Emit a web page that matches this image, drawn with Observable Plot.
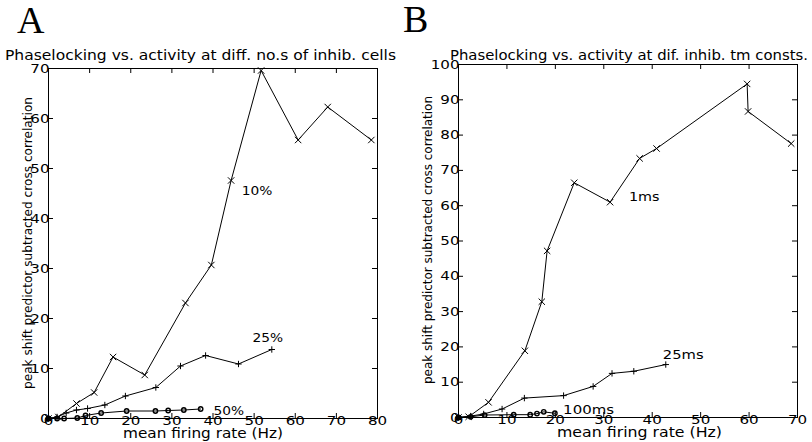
<!DOCTYPE html>
<html>
<head>
<meta charset="utf-8">
<script src="https://cdn.jsdelivr.net/npm/d3@7"></script>
<script src="https://cdn.jsdelivr.net/npm/@observablehq/plot@0.6"></script>
<style>
  body { margin: 0; background: #fff; }
  #wrap { position: relative; width: 812px; height: 442px; overflow: hidden; background: #fff; }
  #wrap > .panel { position: absolute; top: 0; }
  #wrap svg { overflow: visible; }
  #notes { position: absolute; left: 0; top: 0; pointer-events: none; }
</style>
</head>
<body>
<div id="wrap">
  <div class="panel" id="panelA" style="left:0px"></div>
  <div class="panel" id="panelB" style="left:405px"></div>
  <svg id="notes" width="812" height="442" font-family="DejaVu Sans, sans-serif" fill="#000">
    <text x="17" y="33" font-family="Liberation Serif, serif" font-size="38">A</text>
    <text x="403" y="32" font-family="Liberation Serif, serif" font-size="38">B</text>
    <text x="5" y="60" font-size="13.5" textLength="391" lengthAdjust="spacingAndGlyphs">Phaselocking vs. activity at diff. no.s of inhib. cells</text>
    <text x="450" y="60" font-size="13.5" textLength="358" lengthAdjust="spacingAndGlyphs">Phaselocking vs. activity at dif. inhib. tm consts.</text>
    <text x="123" y="438" font-size="14" textLength="160" lengthAdjust="spacingAndGlyphs">mean firing rate (Hz)</text>
    <text x="557" y="437" font-size="14" textLength="165" lengthAdjust="spacingAndGlyphs">mean firing rate (Hz)</text>
    <text transform="translate(32,243) rotate(-90)" font-size="12.5" text-anchor="middle" textLength="292" lengthAdjust="spacingAndGlyphs">peak shift predictor subtracted cross correlation</text>
    <text transform="translate(432,240) rotate(-90)" font-size="12.5" text-anchor="middle" textLength="288" lengthAdjust="spacingAndGlyphs">peak shift predictor subtracted cross correlation</text>
  </svg>
</div>
<script>
// Panel A: phase locking vs. mean firing rate for different fractions of inhibitory cells
const a10x = [0, 2.4, 6.8, 11.1, 15.7, 23.4, 33.3, 39.6, 44.4, 51.7, 60.7, 67.9, 78.5];
const a10y = [0, 0.3, 3.0, 5.2, 12.3, 8.7, 23.1, 30.7, 47.6, 69.6, 55.7, 62.3, 55.7];
const a25x = [0, 2.1, 4.3, 6.8, 9.5, 13.7, 18.7, 26.1, 32.1, 38.2, 46.2, 54.3];
const a25y = [0, 0.3, 1.1, 1.7, 2.0, 2.7, 4.5, 6.2, 10.5, 12.6, 10.9, 13.8];
const a50x = [0, 2.1, 3.8, 7.0, 9.0, 12.8, 19.0, 26.0, 29.1, 32.9, 37.0];
const a50y = [0, 0, 0, 0.1, 0.6, 1.1, 1.5, 1.5, 1.6, 1.7, 1.9];
const aLabels = ["10%", "25%", "50%"];
const aLabelX = [47, 49.6, 40.1];
const aLabelY = [45.6, 16.1, 1.6];
const aXTicks = [0, 10, 20, 30, 40, 50, 60, 70, 80];
const aYTicks = [0, 10, 20, 30, 40, 50, 60, 70];

// Panel B: phase locking vs. mean firing rate for different inhibitory time constants
const b1x = [0, 2.1, 6.2, 13.7, 17.2, 18.3, 23.9, 31.3, 37.4, 40.9, 59.6, 59.8, 68.7];
const b1y = [0, 0.2, 4.3, 18.9, 32.8, 47.2, 66.5, 61.0, 73.4, 76.2, 94.5, 86.7, 77.6];
const b25x = [0, 2.5, 5.2, 9.0, 13.6, 21.7, 27.8, 31.7, 36.2, 42.8];
const b25y = [0, 0.4, 1.0, 2.4, 5.5, 6.2, 8.8, 12.5, 13.1, 15.0];
const b100x = [0, 2.5, 5.4, 11.4, 14.8, 16.2, 17.6, 19.9];
const b100y = [0, 0.2, 0.7, 0.8, 0.8, 1.1, 1.6, 1.2];
const bLabels = ["1ms", "25ms", "100ms"];
const bLabelX = [35.2, 42.2, 21.6];
const bLabelY = [62.4, 17.8, 2.2];
const bXTicks = [0, 10, 20, 30, 40, 50, 60, 70];
const bYTicks = [0, 10, 20, 30, 40, 50, 60, 70, 80, 90, 100];

const pts = (xs, ys) => xs.map((x, i) => ({x, y: ys[i]}));
const lbls = (ts, xs, ys) => ts.map((t, i) => ({t, x: xs[i], y: ys[i]}));

// widen tick and curve labels to the broad lettering of the figure
function widen(svg) {
  svg.querySelectorAll('g[aria-label$="tick label"] text').forEach(t => {
    const n = t.textContent.length;
    t.setAttribute("textLength", n * 9.6);
    t.setAttribute("lengthAdjust", "spacingAndGlyphs");
  });
  svg.querySelectorAll('g[aria-label="text"] text').forEach(t => {
    const n = t.textContent.length;
    t.setAttribute("textLength", n * 10.2);
    t.setAttribute("lengthAdjust", "spacingAndGlyphs");
  });
  return svg;
}

function panel({width, height, margins, xDomain, yDomain, xTicks, yTicks, series, labels}) {
  const [mt, mr, mb, ml] = margins;
  const fw = width - ml - mr, fh = height - mt - mb, tk = 5;
  const marks = [
    Plot.frame({stroke: "#000", strokeWidth: 1}),
    // inward ticks on all four sides
    Plot.tickX(xTicks, {x: d => d, insetTop: fh - tk, stroke: "#000"}),
    Plot.tickX(xTicks, {x: d => d, insetBottom: fh - tk, stroke: "#000"}),
    Plot.tickY(yTicks, {y: d => d, insetRight: fw - tk, stroke: "#000"}),
    Plot.tickY(yTicks, {y: d => d, insetLeft: fw - tk, stroke: "#000"}),
    Plot.axisX({ticks: xTicks, tickSize: 0, tickPadding: -2, tickFormat: d => String(d), fontSize: 12.5}),
    Plot.axisY({ticks: yTicks, tickSize: 0, tickPadding: -1, tickFormat: d => String(d), fontSize: 12.5})
  ];
  for (const s of series) {
    marks.push(Plot.line(s.data, {x: "x", y: "y", stroke: "#000", strokeWidth: 1}));
    if (s.symbol === "circle") {
      marks.push(Plot.dot(s.data, {x: "x", y: "y", symbol: "circle", r: 2.2, stroke: "#000", strokeWidth: 1.4, fill: "none"}));
    } else {
      marks.push(Plot.dot(s.data, {x: "x", y: "y", symbol: s.symbol, r: s.r, stroke: "#000", strokeWidth: 1}));
    }
  }
  marks.push(Plot.text(labels, {x: "x", y: "y", text: "t", textAnchor: "start", fontSize: 13, fill: "#000"}));
  return widen(Plot.plot({
    width, height,
    marginTop: mt, marginRight: mr, marginBottom: mb, marginLeft: ml,
    x: {domain: xDomain, label: null},
    y: {domain: yDomain, label: null},
    style: {fontFamily: "DejaVu Sans, sans-serif", background: "transparent", color: "#000"},
    marks
  }));
}

document.getElementById("panelA").appendChild(panel({
  width: 405, height: 442, margins: [68, 28, 24, 48],
  xDomain: [0, 80], yDomain: [0, 70], xTicks: aXTicks, yTicks: aYTicks,
  series: [
    {data: pts(a10x, a10y), symbol: "times", r: 3},
    {data: pts(a25x, a25y), symbol: "plus", r: 2.2},
    {data: pts(a50x, a50y), symbol: "circle"}
  ],
  labels: lbls(aLabels, aLabelX, aLabelY)
}));

document.getElementById("panelB").appendChild(panel({
  width: 407, height: 442, margins: [64, 15, 25, 53],
  xDomain: [0, 70], yDomain: [0, 100], xTicks: bXTicks, yTicks: bYTicks,
  series: [
    {data: pts(b1x, b1y), symbol: "times", r: 3},
    {data: pts(b25x, b25y), symbol: "plus", r: 2.2},
    {data: pts(b100x, b100y), symbol: "circle"}
  ],
  labels: lbls(bLabels, bLabelX, bLabelY)
}));
</script>
</body>
</html>
